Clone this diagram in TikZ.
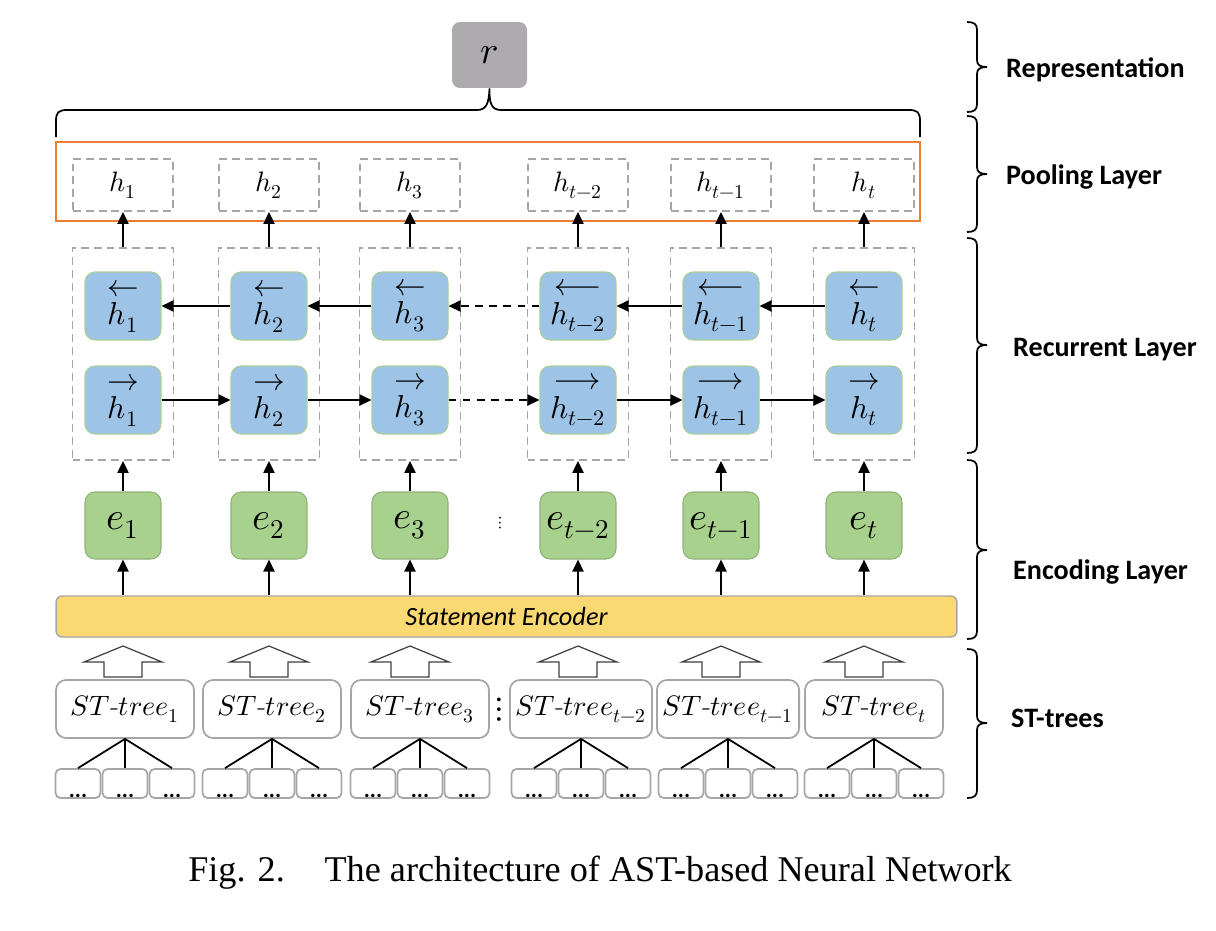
\documentclass[tikz,border=0pt]{standalone}
\usepackage{fontspec}
\usepackage{unicode-math}
\setmathfont{Latin Modern Math}
\newfontfamily\calibri{Carlito}
\newfontfamily\capfont{Liberation Serif}
\usetikzlibrary{arrows.meta}

\definecolor{cellblue}{HTML}{9DC3E6}
\definecolor{cellborder}{HTML}{A9CF96}
\definecolor{encgreen}{HTML}{A9D18E}
\definecolor{encyellow}{HTML}{FAD872}
\definecolor{poolorange}{HTML}{ED7D31}
\definecolor{reprgray}{HTML}{ADABAD}
\definecolor{dashgray}{HTML}{A6A6A6}

\begin{document}
\begin{tikzpicture}[
    x = 0.02cm, y = -0.02cm,
    arr/.style = {line width = 1.3pt, -{Triangle[length = 2.4mm, width = 2.2mm]}},
    hbox/.style = {draw = dashgray, line width = 1.1pt, dash pattern = on 4.5pt off 2.8pt,
                   minimum width = 2cm, minimum height = 1.04cm, font = \fontsize{16}{19}\selectfont},
    recbox/.style = {hbox, minimum width = 2.02cm, minimum height = 4.24cm},
    cell/.style = {rounded corners = 0.2cm, minimum width = 1.52cm, minimum height = 1.36cm, line width = 0.6pt},
    hcell/.style = {cell, fill = cellblue, draw = cellborder, align = center, inner sep = 0pt,
                    font = \fontsize{18}{20}\selectfont},
    ecell/.style = {cell, fill = encgreen, draw = encgreen!85!black, minimum height = 1.34cm,
                    font = \fontsize{22}{24}\selectfont},
    tree/.style = {draw = dashgray, line width = 1pt, rounded corners = 0.2cm, minimum width = 2.76cm,
                   minimum height = 1.16cm, font = \fontsize{16}{19}\selectfont},
    leaf/.style = {draw = dashgray, line width = 1pt, rounded corners = 0.1cm, minimum width = 0.9cm,
                   minimum height = 0.58cm,
                   label = {[font = \calibri\bfseries\fontsize{13}{14}\selectfont, anchor = south, inner sep = 0.5pt]south:...}},
    hollow/.style = {draw = black!75, line width = 0.7pt, fill = white},
    layer/.style = {anchor = west, font = \calibri\bfseries\fontsize{16}{19}\selectfont},
    brc/.style = {line width = 1pt}]

\useasboundingbox (0,0) rectangle (1216,930);

% representation and pooling
\node[fill = reprgray, rounded corners = 0.16cm, minimum width = 1.5cm, minimum height = 1.32cm,
      font = \fontsize{22}{24}\selectfont] (r) at (489.5,55) {$r$};
\draw[brc] (56,137) -- (56,122) .. controls (56,112) and (58,110) .. (68,110) -- (477,110)
  .. controls (486,110) and (489,104) .. (r.south) .. controls (489,104) and (492,110) .. (501,110)
  -- (908,110) .. controls (918,110) and (920,112) .. (920,122) -- (920,137);
\node[draw = poolorange, line width = 1.4pt, minimum width = 17.28cm, minimum height = 1.58cm] (pool) at (488,181.5) {};

% encoder
\node[draw = dashgray, line width = 0.8pt, fill = encyellow, rounded corners = 0.12cm,
      minimum width = 18.02cm, minimum height = 0.82cm,
      font = \calibri\itshape\fontsize{15}{18}\selectfont] (enc) at (506.5,616.5) {Statement Encoder};

% columns
\foreach \i/\x/\tx/\s/\la/\ra in {1/123/125/1/\leftarrow/\rightarrow, 2/269/272/2/\leftarrow/\rightarrow,
    3/410/420/3/\leftarrow/\rightarrow, 4/578/581/t-2/\longleftarrow/\longrightarrow,
    5/721/728/t-1/\longleftarrow/\longrightarrow, 6/864/874/t/\leftarrow/\rightarrow}{
  \node[hbox] (p\i) at (\x,185) {$h_{\s}$};
  \node[recbox] (rec\i) at (\x,354) {};
  \node[hcell] (b\i) at (\x,306) {$\la$\\[-4pt]$h_{\s}$};
  \node[hcell] (f\i) at (\x,400) {$\ra$\\[-4pt]$h_{\s}$};
  \node[ecell] (e\i) at (\x,525.5) {$e_{\s}$};
  \node[tree] (t\i) at (\tx,709) {$ST$-$tree_{\s}$};
  \draw[arr] (e\i |- enc.north) -- (e\i.south);
  \draw[arr] (e\i.north) -- (rec\i.south);
  \draw[arr] (rec\i.north) -- (p\i.south);
  \draw[hollow] (\x-19,677) -- (\x-19,662) -- (\x-39,662) -- (\x,646) -- (\x+39,662) -- (\x+19,662) -- (\x+19,677) -- cycle;
  \foreach \k/\d in {1/-47, 2/0, 3/47}{
    \node[leaf] (l\i\k) at (\tx+\d,783.5) {};
    \draw[line width = 1pt] (t\i.south) -- (l\i\k.north);
  }
}

% recurrence
\foreach \i/\j in {1/2, 2/3, 4/5, 5/6}{
  \draw[arr] (f\i) -- (f\j);
  \draw[arr] (b\j) -- (b\i);
}
\draw[arr, dash pattern = on 4.5pt off 3.5pt] (f3) -- (f4);
\draw[arr, dash pattern = on 4.5pt off 3.5pt] (b4) -- (b3);

\node (vd1) at (500,523) {$\vdots$};
\node[font = \fontsize{20}{22}\selectfont] (vd2) at (499,710) {$\vdots$};

% layers
\foreach \a/\m/\b in {22/67/112, 116/174/232, 238/345/453, 460/550/639, 649/723/798}
  \draw[brc] (967,\a) .. controls (974,\a) and (977,\a+2) .. (977,\a+8) -- (977,\m-7)
    .. controls (977,\m-2) and (980,\m) .. (987,\m) .. controls (980,\m) and (977,\m+2) .. (977,\m+7)
    -- (977,\b-8) .. controls (977,\b-2) and (974,\b) .. (967,\b);
\node[layer] (lrep) at (1000,70) {Representation};
\node[layer] (lpool) at (1000,177) {Pooling Layer};
\node[layer] (lrec) at (1007,350) {Recurrent Layer};
\node[layer] (lenc) at (1007,572) {Encoding Layer};
\node[layer] (ltree) at (1005,718) {ST-trees};

\node[font = \capfont\fontsize{20.6}{24}\selectfont] (cap) at (600,873)
  {Fig. 2.\hspace{1.1em}The architecture of AST-based Neural Network};
\end{tikzpicture}
\end{document}
